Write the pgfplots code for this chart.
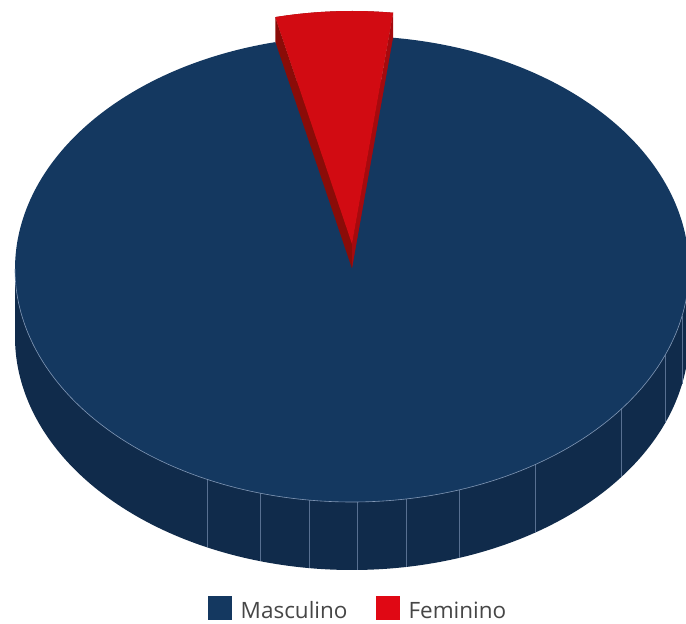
\documentclass[border=0pt]{standalone}
\usepackage{pgfplots}
\pgfplotsset{compat=1.18}
\usepackage{fontspec}
\setmainfont{Open Sans}
\definecolor{topblue}{RGB}{20,56,96}
\definecolor{sideblue}{RGB}{16,43,75}
\definecolor{facet}{RGB}{88,112,145}
\definecolor{edgehl}{RGB}{130,152,182}
\definecolor{topred}{RGB}{210,11,18}
\definecolor{legred}{RGB}{224,8,20}
\definecolor{darkred}{RGB}{138,12,8}
\definecolor{midred}{RGB}{165,10,14}
\definecolor{legtext}{RGB}{70,70,70}
\begin{document}
\begin{tikzpicture}
% data (percent)
\def\fem{5.6}
\def\masc{94.4}
% geometry
\pgfmathsetmacro\aS{83.0}
\pgfmathsetmacro\aF{\aS+3.6*\fem}
\pgfmathsetmacro\aM{\aF+3.6*\masc}
\def\cx{352}\def\cy{355}\def\rx{337}\def\ry{233}\def\dep{68}\def\ex{25}
\pgfmathsetmacro\cyb{\cy-\dep}
\pgfmathsetmacro\cyu{\cy+\ex}
\pgfmathsetmacro\cyl{\cy+\ex-\dep}
\pgfmathsetmacro\xL{\cx-\rx}
\pgfmathsetmacro\xR{\cx+\rx}
\begin{axis}[
  scale only axis, width=686pt, height=624pt,
  xmin=0, xmax=686, ymin=0, ymax=624,
  hide axis, clip=true,
  legend columns=2,
  legend image code/.code={\fill[#1, draw=none] (0pt,-1pt) rectangle (24pt,23pt);},
  legend style={at={(axis cs:358,4)}, anchor=south, draw=none, fill=none,
    inner sep=0pt, outer sep=0pt,
    font=\fontsize{22.5}{24}\selectfont\color{legtext},
    /tikz/every odd column/.append style={column sep=7pt},
    /tikz/every even column/.append style={column sep=26pt},
    nodes={inner ysep=0pt, text depth=0pt},
    cells={anchor=base west}},
]
% cylinder side
\addplot[fill=sideblue, draw=none, domain=180:360, samples=181, variable=\t, forget plot]
  ({\cx+\rx*cos(\t)},{\cyb+\ry*sin(\t)}) -- (\xR,\cy) -- (\xL,\cy) -- cycle;
% facet lines on the side
\pgfplotsinvokeforeach{244.5,254.2,262.8,270.85,279.2,288.5,303,323.2,338.25,348.3}{
  \addplot[draw=facet, line width=0.7pt, domain=0:1, samples=2, forget plot]
    ({\cx+\rx*cos(#1)},{\cy+\ry*sin(#1)-\dep*x});
}
% red slice body (exploded)
\addplot[fill=darkred, draw=none, domain=\aS:\aF, samples=30, variable=\t, forget plot]
  ({\cx+\rx*cos(\t)},{\cyl+\ry*sin(\t)}) -- (\cx,\cyl) -- cycle;
\addplot[fill=darkred, draw=none, domain=\aS:\aF, samples=30, variable=\t, forget plot]
  ({\cx+\rx*cos(\t)},{\cyu+\ry*sin(\t)}) -- (\cx,\cyu) -- cycle;
\addplot[fill=darkred, draw=none, domain=0:1, samples=2, forget plot]
  ({\cx+\rx*cos(\aF)},{\cyl+\dep*x+\ry*sin(\aF)}) -- (\cx,\cyu) -- (\cx,\cyl) -- cycle;
\addplot[fill=midred, draw=none, domain=0:1, samples=2, forget plot]
  ({\cx+\rx*cos(\aS)},{\cyl+\dep*x+\ry*sin(\aS)}) -- (\cx,\cyu) -- (\cx,\cyl) -- cycle;
% blue top face
\addplot[fill=topblue, draw=none, domain=\aF:\aM, samples=361, variable=\t, forget plot]
  ({\cx+\rx*cos(\t)},{\cy+\ry*sin(\t)}) -- (\cx,\cy) -- cycle;
% front edge highlight
\addplot[draw=edgehl, line width=0.6pt, domain=180:360, samples=181, variable=\t, forget plot]
  ({\cx+\rx*cos(\t)},{\cy+\ry*sin(\t)});
% red top face
\addplot[fill=topred, draw=none, domain=\aS:\aF, samples=30, variable=\t, forget plot]
  ({\cx+\rx*cos(\t)},{\cyu+\ry*sin(\t)}) -- (\cx,\cyu) -- cycle;
% legend
\addlegendimage{fill=topblue}
\addlegendentry{Masculino}
\addlegendimage{fill=legred}
\addlegendentry{Feminino}
\end{axis}
\pgfresetboundingbox
\path (current axis.south west) rectangle (current axis.north east);
\end{tikzpicture}
\end{document}
